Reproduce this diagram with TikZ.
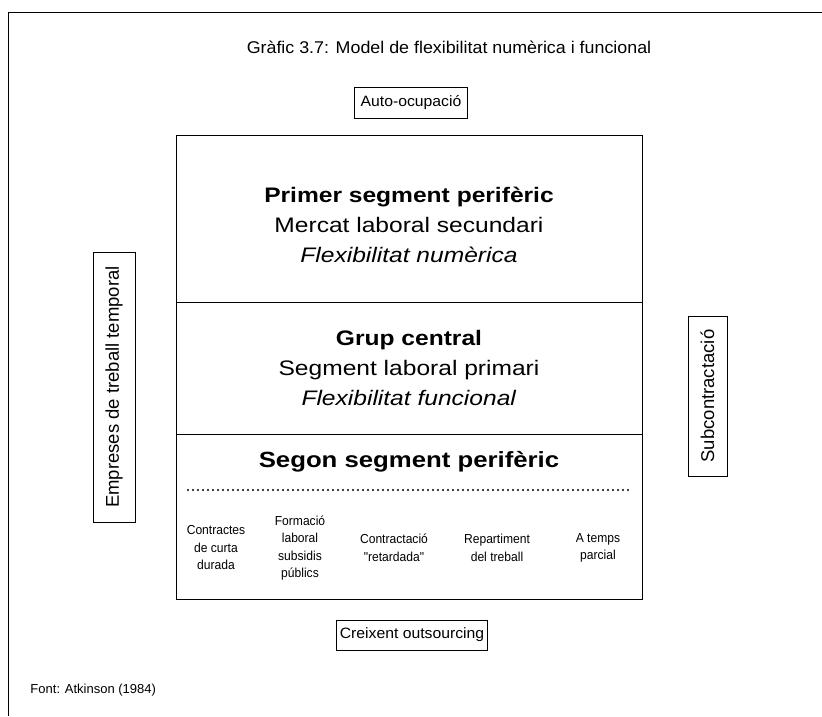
\documentclass[tikz,border=0pt]{standalone}
\usepackage{fontspec}
\setmainfont{Liberation Sans}
\newfontfamily\widefont{Liberation Sans}[FakeStretch=1.17]
\newfontfamily\midfont{Liberation Sans}[FakeStretch=1.05]
\newfontfamily\narrowfont{Liberation Sans}[FakeStretch=0.93]
\begin{document}
\begin{tikzpicture}[x=1pt,y=-1pt,
  line width=1pt,
  lbl/.style={draw, line width=1pt, inner sep=0pt},
  txt/.style={align=center, inner sep=0pt},
  sec/.style={txt, font=\widefont\fontsize{21}{30}\selectfont},
  col/.style={txt, font=\narrowfont\fontsize{13}{17.5}\selectfont}]
\useasboundingbox (0,0) rectangle (822,716);
% outer frame (left and top edges only)
\coordinate (fbl) at (8,716);
\coordinate (ftl) at (8,12);
\coordinate (ftr) at (822,12);
\draw (fbl) -- (ftl) -- (ftr);
% title
\node[txt, font=\midfont\fontsize{17}{20}\selectfont] (title) at (449,47) {Gràfic 3.7: Model de flexibilitat numèrica i funcional};
% top box
\node[lbl, minimum width=113pt, minimum height=31pt, font=\midfont\fontsize{15}{18}\selectfont] (auto) at (411,103) {Auto-ocupació};
% main box
\node[draw, line width=1pt, minimum width=466pt, minimum height=464pt, inner sep=0pt] (main) at (409,367) {};
\coordinate (d1l) at (176,302); \coordinate (d1r) at (642,302);
\coordinate (d2l) at (176,434); \coordinate (d2r) at (642,434);
\coordinate (dtl) at (188,490); \coordinate (dtr) at (632,490);
\draw (d1l) -- (d1r);
\draw (d2l) -- (d2r);
\draw[line width=2.2pt, line cap=round, dash pattern=on 0pt off 5pt] (dtl) -- (dtr);
% sections
\node[sec] (s1) at (409,225) {\textbf{Primer segment perifèric}\\Mercat laboral secundari\\\textit{Flexibilitat numèrica}};
\node[sec] (s2) at (409,368) {\textbf{Grup central}\\Segment laboral primari\\\textit{Flexibilitat funcional}};
\node[sec, font=\widefont\fontsize{22}{27}\selectfont] (s3) at (409,462) {\textbf{Segon segment perifèric}};
% columns
\node[col] (c1) at (216,548) {Contractes\\de curta\\durada};
\node[col] (c2) at (300,548) {Formació\\laboral\\subsidis\\públics};
\node[col] (c3) at (394,548) {Contractació\\"retardada"};
\node[col] (c4) at (497,548) {Repartiment\\del treball};
\node[col] (c5) at (598,548) {A temps\\parcial};
% side boxes
\node[lbl, rotate=90, minimum width=270pt, minimum height=42pt, font=\fontsize{18.5}{20}\selectfont] (left) at (114,387) {Empreses de treball temporal};
\node[lbl, rotate=90, minimum width=160pt, minimum height=39pt, font=\fontsize{18.5}{20}\selectfont] (right) at (707.5,396) {Subcontractació};
% bottom box
\node[lbl, minimum width=151pt, minimum height=30pt, font=\midfont\fontsize{15}{18}\selectfont] (out) at (412,635) {Creixent outsourcing};
% source
\node[txt, anchor=west, font=\fontsize{13}{15}\selectfont] (src) at (30,690) {Font: Atkinson (1984)};
\end{tikzpicture}
\end{document}
